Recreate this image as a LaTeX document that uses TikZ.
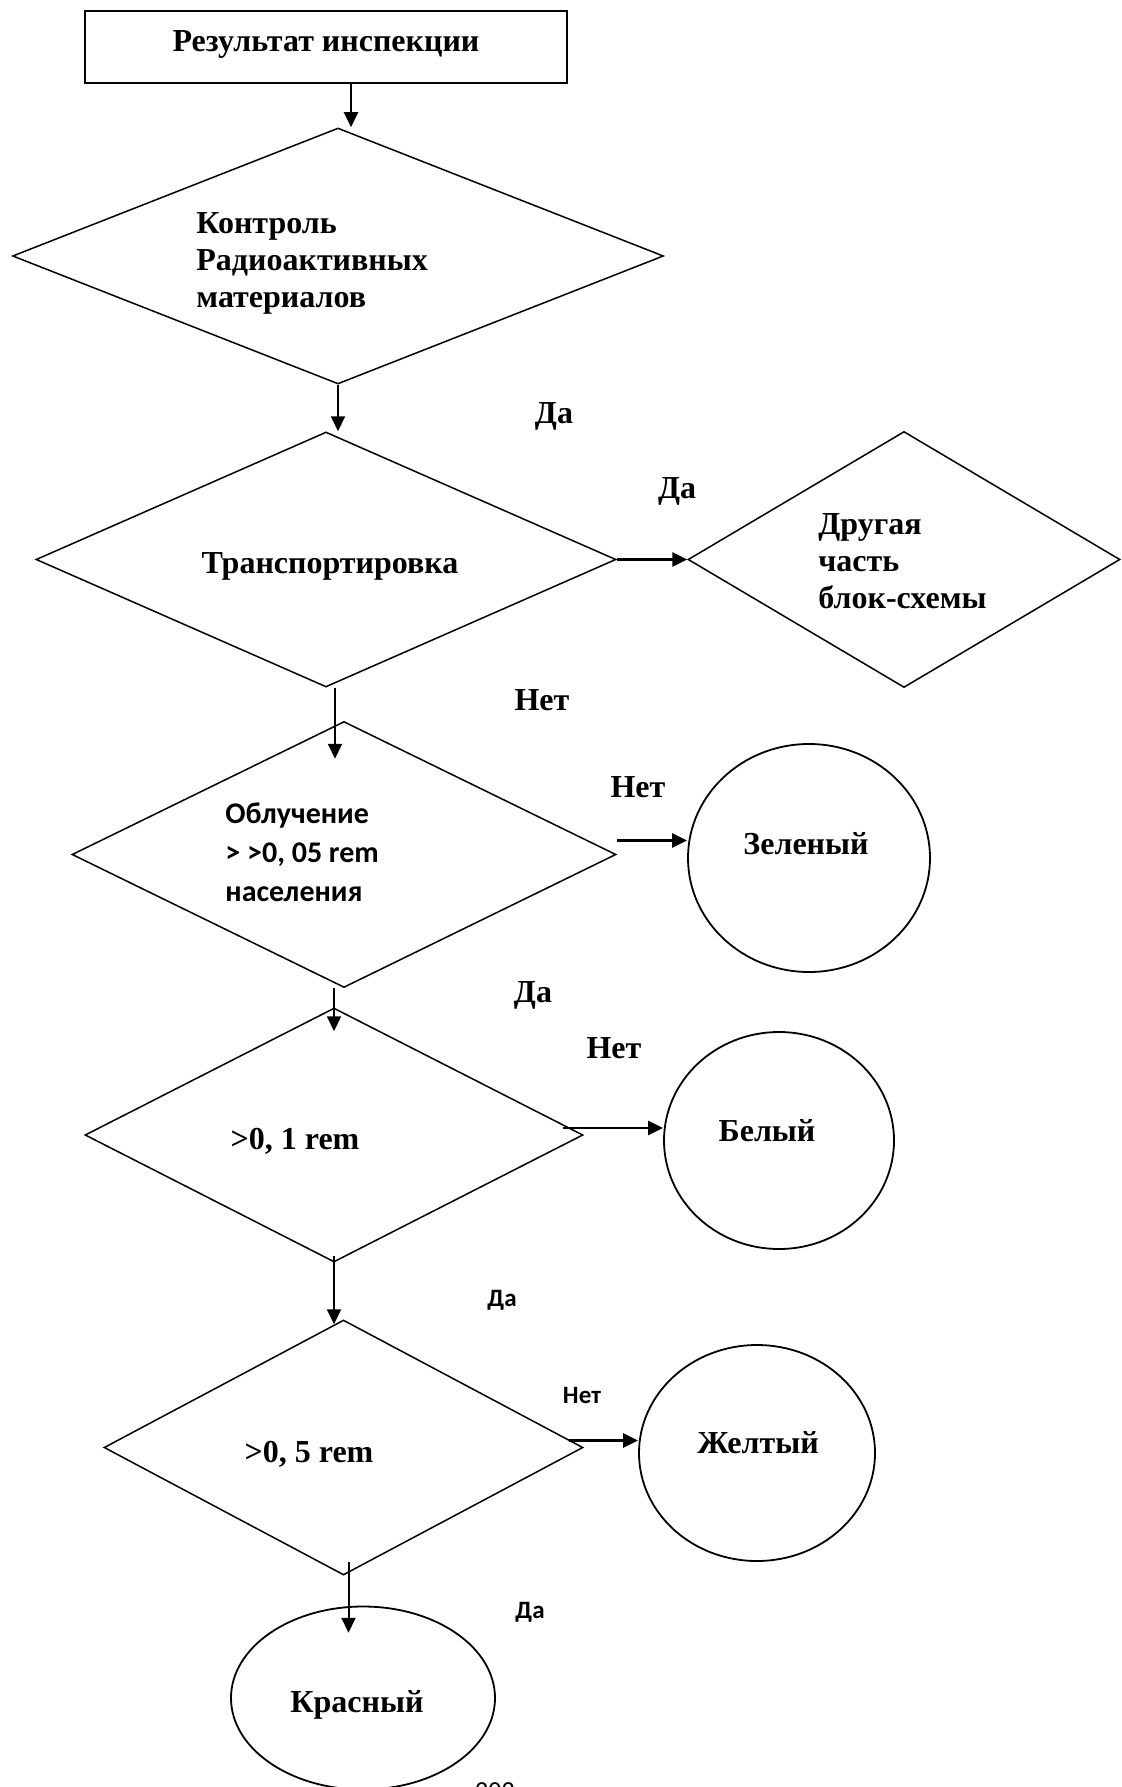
\documentclass[tikz,border=0pt]{standalone}
\usepackage{fontspec}
\setmainfont{Liberation Serif}
\newfontfamily\calib{Carlito}
\usetikzlibrary{shapes.geometric,arrows.meta}

\tikzset{
  dia/.style={draw, diamond, line width=0.75pt, inner sep=0pt},
  ell/.style={draw, ellipse, line width=0.9pt, inner sep=0pt},
  arr/.style={-{Triangle[length=7.5pt,width=7pt]}, line width=1pt},
  harr/.style={arr, line width=1.4pt},
  ser/.style={font=\bfseries\fontsize{16}{18.5}\selectfont, inner sep=0pt},
  sans/.style={font=\calib\bfseries\fontsize{15}{19.5}\selectfont, inner sep=0pt},
  small/.style={font=\calib\bfseries\fontsize{12.5}{15}\selectfont, inner sep=0pt}
}

\begin{document}
\begin{tikzpicture}[x=0.5pt,y=-0.5pt]
\useasboundingbox (0,0) rectangle (1121,1787);

% boxes
\node[draw, line width=1pt, minimum width=241pt, minimum height=36pt, inner sep=0pt] (res) at (326,47) {};
\node[dia, minimum width=325.5pt, minimum height=128pt] (d1) at (338,256) {};
\node[dia, minimum width=290pt, minimum height=127.5pt] (d2) at (326,559.5) {};
\node[dia, minimum width=216pt, minimum height=128pt] (d3) at (904,559.5) {};
\node[dia, minimum width=272pt, minimum height=133pt] (d4) at (344,854.5) {};
\node[dia, minimum width=249pt, minimum height=127pt] (d5) at (334,1135) {};
\node[dia, minimum width=239.5pt, minimum height=127.5pt] (d6) at (343.5,1447.5) {};
\node[ell, minimum width=121pt, minimum height=114pt] (zel) at (809,858) {};
\node[ell, minimum width=115pt, minimum height=108.5pt] (bel) at (779,1140.5) {};
\node[ell, minimum width=118pt, minimum height=108pt] (zhe) at (757,1453) {};
\node[ell, minimum width=132pt, minimum height=91.5pt] (kr) at (363,1698) {};

% texts (multi-line ones are set on their last baseline)
\node[ser, anchor=base] (tres) at (326,52) {Результат инспекции};
\node[ser, anchor=base west, align=left] (tkon) at (196,307) {Контроль\\Радиоактивных\\материалов};
\node[ser, anchor=base] (ttr) at (330,573) {Транспортировка};
\node[ser, anchor=base west, align=left] (tdr) at (818,608) {Другая\\часть\\блок-схемы};
\node[sans, anchor=base west, align=left] (tobl) at (225,901) {Облучение\\> >0, 05 rem\\населения};
\node[ser, anchor=base] (tzel) at (806,854) {Зеленый};
\node[ser, anchor=base] (tr1) at (295,1149) {>0, 1 rem};
\node[ser, anchor=base] (tbel) at (767,1141) {Белый};
\node[ser, anchor=base] (tr5) at (309,1462) {>0, 5 rem};
\node[ser, anchor=base] (tzhe) at (758,1453) {Желтый};
\node[ser, anchor=base] (tkr) at (357,1712) {Красный};

% labels
\node[ser, anchor=base] (da1) at (554,423) {Да};
\node[ser, anchor=base] (da2) at (677,498) {Да};
\node[ser, anchor=base] (net1) at (542,710) {Нет};
\node[ser, anchor=base] (net2) at (638,797) {Нет};
\node[ser, anchor=base] (da3) at (533,1002) {Да};
\node[ser, anchor=base] (net3) at (614,1058) {Нет};
\node[small, anchor=base] (da4) at (502,1306) {Да};
\node[small, anchor=base] (net4) at (582,1403) {Нет};
\node[small, anchor=base] (da5) at (530,1618) {Да};
\node[font=\calib\fontsize{13}{15}\selectfont, anchor=north, inner sep=0pt] (pg) at (495,1782) {202};

% arrows
\draw[arr] ([xshift=12.5pt]res.south) coordinate (a1) -- (a1 |- d1.north);
\draw[arr] (d1.south) -- (d1.south |- d2.north);
\draw[arr] ([xshift=4.5pt]d2.south) -- ++(0,71);
\draw[arr] (d4.south -| d5.north) -- ([yshift=-12pt]d5.north);
\draw[arr] ([yshift=3.5pt]d5.south) -- ([yshift=-2.5pt]d5.south |- d6.north);
\draw[arr] ([xshift=2.5pt,yshift=7pt]d6.south) -- ++(0,71);
\draw[harr] (d2.east) -- (d3.west);
\draw[harr] ([yshift=7pt]d4.east) -- ([yshift=7pt]d4.east -| zel.west);
\draw[harr] ([xshift=-10.5pt,yshift=3.5pt]d5.east) -- ([yshift=3.5pt]d5.east -| bel.west);
\draw[harr] ([xshift=-7.5pt,yshift=3.5pt]d6.east) -- ([yshift=3.5pt]d6.east -| zhe.west);
\end{tikzpicture}
\end{document}
